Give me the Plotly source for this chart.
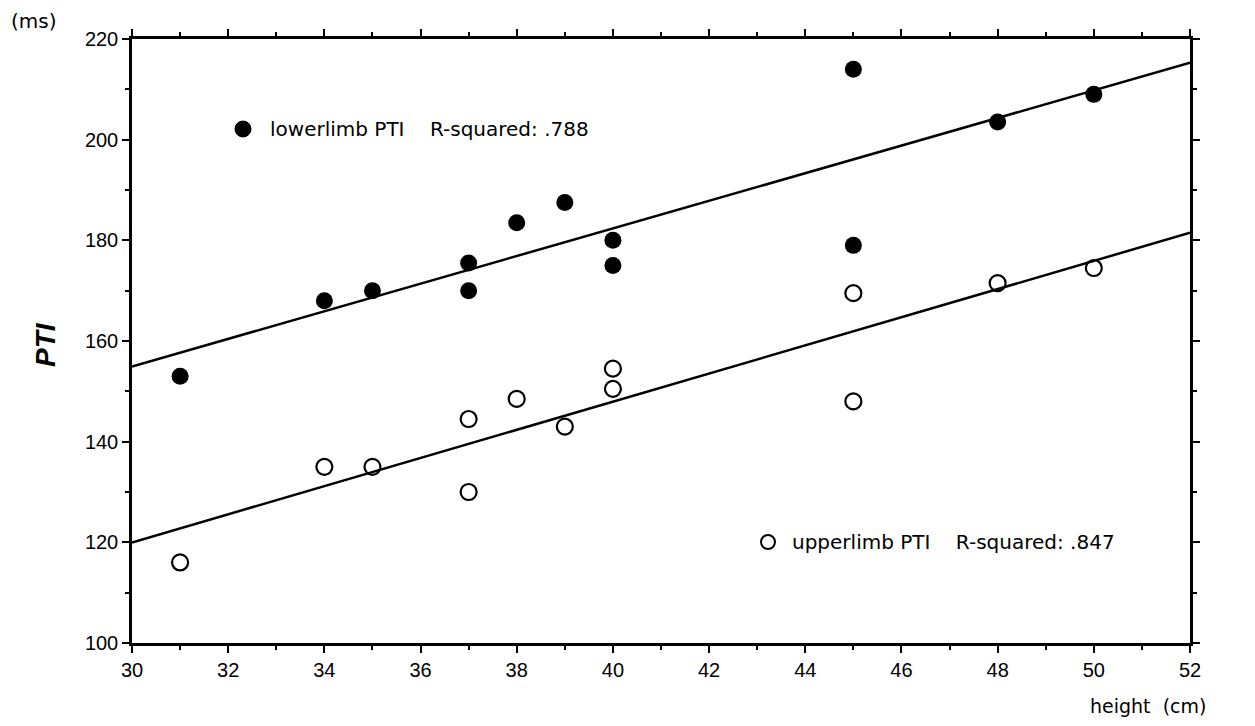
import numpy as np
import plotly.graph_objects as go

height_cm = [31, 34, 35, 37, 37, 38, 39, 40, 40, 45, 45, 48, 50]
lower_pti = [153, 168, 170, 175.5, 170, 183.5, 187.5, 180, 175, 214, 179, 203.5, 209]
upper_pti = [116, 135, 135, 144.5, 130, 148.5, 143, 154.5, 150.5, 169.5, 148, 171.5, 174.5]
x_range = [30, 52]
y_range = [100, 220]
lower_label = "lowerlimb PTI    R-squared: .788"
upper_label = "upperlimb PTI    R-squared: .847"

xs = np.array(height_cm, dtype=float)
fit_x = np.array(x_range, dtype=float)
lo_coef = np.polyfit(xs, np.array(lower_pti, dtype=float), 1)
up_coef = np.polyfit(xs, np.array(upper_pti, dtype=float), 1)

W, H = 1255, 726
L, R, T, B = 132, 65, 39, 83
pw, ph = W - L - R, H - T - B
def px(xp): return (xp - L) / pw
def py(yp): return 1 - (yp - T) / ph

fig = go.Figure()
fig.add_trace(go.Scatter(x=fit_x, y=np.polyval(lo_coef, fit_x), mode="lines",
                         line=dict(color="black", width=2.5), showlegend=False, cliponaxis=False))
fig.add_trace(go.Scatter(x=fit_x, y=np.polyval(up_coef, fit_x), mode="lines",
                         line=dict(color="black", width=2.5), showlegend=False, cliponaxis=False))
fig.add_trace(go.Scatter(x=height_cm, y=lower_pti, mode="markers",
                         marker=dict(symbol="circle", size=17, color="black"), showlegend=False))
fig.add_trace(go.Scatter(x=height_cm, y=upper_pti, mode="markers",
                         marker=dict(symbol="circle-open", size=16, color="black", line=dict(width=2.2)),
                         showlegend=False))

tickfont = dict(family="Liberation Sans, Arial, sans-serif", size=20, color="black")
axis_common = dict(showgrid=False, zeroline=False, showline=True, linecolor="black", linewidth=2.5,
                   mirror="ticks", ticks="outside", ticklen=7, tickwidth=2, tickcolor="black",
                   tickfont=tickfont)
fig.update_xaxes(range=x_range, tickmode="linear", tick0=30, dtick=2,
                 minor=dict(ticks="outside", ticklen=4, tickwidth=2, dtick=1, tickcolor="black"),
                 **axis_common)
fig.update_yaxes(range=y_range, tickmode="linear", tick0=100, dtick=20,
                 minor=dict(ticks="outside", ticklen=4, tickwidth=2, dtick=10, tickcolor="black"),
                 **axis_common)

fig.update_layout(
    width=W, height=H,
    margin=dict(l=L, r=R, t=T, b=B),
    plot_bgcolor="white", paper_bgcolor="white",
    showlegend=False,
)

txtfont = dict(family="DejaVu Sans, sans-serif", size=20, color="black")
fig.add_annotation(x=px(268), y=py(129), xref="paper", yref="paper", text=lower_label, showarrow=False,
                   xanchor="left", yanchor="middle", font=txtfont)
fig.add_annotation(x=px(790), y=py(542), xref="paper", yref="paper", text=upper_label, showarrow=False,
                   xanchor="left", yanchor="middle", font=txtfont)

fig.add_shape(type="circle", xref="paper", yref="paper", xsizemode="pixel", ysizemode="pixel",
              xanchor=px(243), yanchor=py(129), x0=-8, x1=8, y0=-8, y1=8,
              fillcolor="black", line=dict(color="black", width=1))
fig.add_shape(type="circle", xref="paper", yref="paper", xsizemode="pixel", ysizemode="pixel",
              xanchor=px(768), yanchor=py(542), x0=-7, x1=7, y0=-7, y1=7,
              fillcolor="white", line=dict(color="black", width=2))

fig.add_annotation(x=px(9), y=py(21), xref="paper", yref="paper", text="(ms)", showarrow=False,
                   xanchor="left", yanchor="middle", font=dict(family="DejaVu Sans, sans-serif", size=20, color="black"))
fig.add_annotation(x=px(1088), y=py(706), xref="paper", yref="paper", text="height  (cm)", showarrow=False,
                   xanchor="left", yanchor="middle", font=dict(family="DejaVu Sans, sans-serif", size=19, color="black"))
fig.add_annotation(x=px(45), y=py(345), xref="paper", yref="paper", text="<b><i>PTI</i></b>", showarrow=False,
                   textangle=-90, xanchor="center", yanchor="middle",
                   font=dict(family="Liberation Sans, Arial, sans-serif", size=28, color="black"))

fig.write_html("out.html")
